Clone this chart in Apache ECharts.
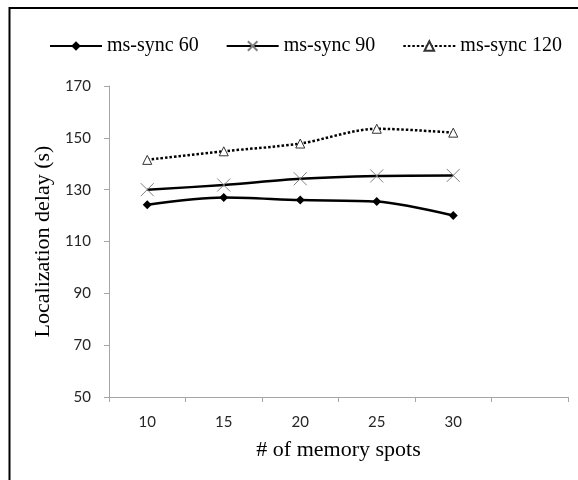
<!DOCTYPE html>
<html>
<head>
<meta charset="utf-8">
<script src="https://cdn.jsdelivr.net/npm/echarts@6/dist/echarts.min.js"></script>
<style>
html,body{margin:0;padding:0;background:#fff;}
#main{width:578px;height:480px;}
</style>
</head>
<body>
<div id="main"></div>
<script>
const categories = ['10', '15', '20', '25', '30', ''];
const msSync60 = [124.2, 127.0, 126.0, 125.4, 120.0];
const msSync90 = [130.0, 131.8, 134.2, 135.3, 135.5];
const msSync120 = [141.5, 144.8, 147.8, 153.5, 152.0];
const yTicks = { min: 50, max: 170, interval: 20 };
const seriesNames = ['ms-sync 60', 'ms-sync 90', 'ms-sync 120'];

const chart = echarts.init(document.getElementById('main'), null, { renderer: 'canvas' });
const serif = '"Liberation Serif", "Times New Roman", serif';
const sans = 'Lato, "Open Sans", sans-serif';
const xPath = 'path://M0,0L10,10M10,0L0,10';

chart.setOption({
  animation: false,
  backgroundColor: '#fff',
  graphic: [{
    type: 'rect',
    shape: { x: 9.5, y: 8, width: 700, height: 600 },
    style: { fill: 'none', stroke: '#000', lineWidth: 2 },
    silent: true
  }],
  legend: {
    top: 31,
    left: 44,
    itemWidth: 52,
    itemHeight: 12,
    itemGap: 27,
    textStyle: { fontFamily: serif, fontSize: 20, color: '#000' },
    data: seriesNames
  },
  grid: { left: 109, right: 10, top: 86, bottom: 83, containLabel: false },
  xAxis: {
    type: 'category',
    data: categories,
    boundaryGap: true,
    name: '# of memory spots',
    nameLocation: 'middle',
    nameGap: 42,
    nameTextStyle: { fontFamily: serif, fontSize: 22, color: '#000' },
    axisLine: { lineStyle: { color: '#a6a6a6', width: 1 } },
    axisTick: { show: true, alignWithLabel: false, length: 5, lineStyle: { color: '#a6a6a6' } },
    axisLabel: { fontFamily: sans, fontSize: 15, color: '#262626', margin: 18 },
    splitLine: { show: false }
  },
  yAxis: {
    type: 'value',
    min: yTicks.min,
    max: yTicks.max,
    interval: yTicks.interval,
    name: 'Localization delay (s)',
    nameLocation: 'middle',
    nameGap: 54,
    nameRotate: 90,
    nameTextStyle: { fontFamily: serif, fontSize: 22, color: '#000' },
    axisLine: { show: true, lineStyle: { color: '#a6a6a6', width: 1 } },
    axisTick: { show: true, length: 5, lineStyle: { color: '#a6a6a6' } },
    axisLabel: { fontFamily: sans, fontSize: 15, color: '#262626', margin: 18 },
    splitLine: { show: false }
  },
  series: [
    {
      name: seriesNames[0],
      type: 'line',
      data: msSync60,
      smooth: 0.3,
      symbol: 'diamond',
      symbolSize: 9,
      lineStyle: { color: '#000', width: 2.5 },
      itemStyle: { color: '#000' },
      z: 3
    },
    {
      name: seriesNames[1],
      type: 'line',
      data: msSync90,
      smooth: 0.3,
      symbol: xPath,
      symbolSize: 13,
      lineStyle: { color: '#000', width: 2.5 },
      itemStyle: { color: 'none', borderColor: '#808080', borderWidth: 1 },
      z: 2
    },
    {
      name: seriesNames[2],
      type: 'line',
      data: msSync120,
      smooth: 0.3,
      symbol: 'triangle',
      symbolSize: 9,
      lineStyle: { color: '#000', width: 2.5, type: [2.5, 2] },
      itemStyle: { color: '#fff', borderColor: '#333', borderWidth: 1 },
      z: 2
    }
  ]
});
</script>
</body>
</html>
